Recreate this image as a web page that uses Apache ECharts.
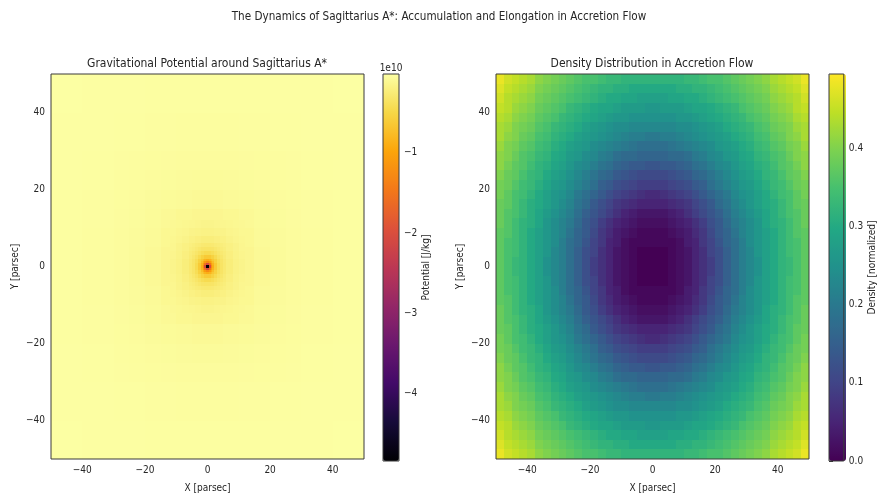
<!DOCTYPE html>
<html><head><meta charset="utf-8">
<script src="https://cdn.jsdelivr.net/npm/echarts@6/dist/echarts.min.js"></script>
<style>html,body{margin:0;padding:0;background:#fff}#c{width:878px;height:498px}</style>
</head><body><div id="c"></div><script>
const FONT = "'DejaVu Sans Condensed','DejaVu Sans',sans-serif";

const suptitle = 'The Dynamics of Sagittarius A*: Accumulation and Elongation in Accretion Flow';
const leftTitle = 'Gravitational Potential around Sagittarius A*';
const rightTitle = 'Density Distribution in Accretion Flow';
const xName = 'X [parsec]';
const yName = 'Y [parsec]';
const potentialName = 'Potential [J/kg]';
const densityName = 'Density [normalized]';
const potentialExponent = '1e10';

const axisTicks = [-40, -20, 0, 20, 40];
const potentialTicks = [-4, -3, -2, -1];
const densityTicks = [0, 0.1, 0.2, 0.3, 0.4];
const potentialRange = [-4.84, -0.02];   // units of 1e10 J/kg
const densityRange = [0, 0.495];

// Potential (1e10 J/kg), 10 pc cells, rows from y=-50 upward
const potCoarseEdges = [-50, -40, -30, -20, -10, 0, 10, 20, 30, 40, 50];
const potCoarseValues = [
  [-0.025,-0.028,-0.031,-0.034,-0.035,-0.035,-0.034,-0.031,-0.028,-0.025],
  [-0.028,-0.032,-0.037,-0.042,-0.045,-0.045,-0.042,-0.037,-0.032,-0.028],
  [-0.031,-0.037,-0.045,-0.055,-0.063,-0.063,-0.055,-0.045,-0.037,-0.031],
  [-0.034,-0.042,-0.055,-0.075,-0.10,-0.10,-0.075,-0.055,-0.042,-0.034],
  [-0.035,-0.045,-0.063,-0.10,-0.23,-0.23,-0.10,-0.063,-0.045,-0.035],
  [-0.035,-0.045,-0.063,-0.10,-0.23,-0.23,-0.10,-0.063,-0.045,-0.035],
  [-0.034,-0.042,-0.055,-0.075,-0.10,-0.10,-0.075,-0.055,-0.042,-0.034],
  [-0.031,-0.037,-0.045,-0.055,-0.063,-0.063,-0.055,-0.045,-0.037,-0.031],
  [-0.028,-0.032,-0.037,-0.042,-0.045,-0.045,-0.042,-0.037,-0.032,-0.028],
  [-0.025,-0.028,-0.031,-0.034,-0.035,-0.035,-0.034,-0.031,-0.028,-0.025]
];
// Potential, 5 pc cells
const potHaloEdges = [-30, -25, -20, -15, -10, -5, 0, 5, 10, 15, 20, 25, 30];
const potHaloValues = [
  [-0.041,-0.045,-0.049,-0.053,-0.056,-0.058,-0.058,-0.056,-0.053,-0.049,-0.045,-0.041],
  [-0.045,-0.050,-0.056,-0.062,-0.067,-0.071,-0.071,-0.067,-0.062,-0.056,-0.050,-0.045],
  [-0.049,-0.056,-0.065,-0.074,-0.084,-0.090,-0.090,-0.084,-0.074,-0.065,-0.056,-0.049],
  [-0.053,-0.062,-0.074,-0.090,-0.110,-0.125,-0.125,-0.110,-0.090,-0.074,-0.062,-0.053],
  [-0.056,-0.067,-0.084,-0.110,-0.15,-0.20,-0.20,-0.15,-0.110,-0.084,-0.067,-0.056],
  [-0.058,-0.071,-0.090,-0.125,-0.20,-0.45,-0.45,-0.20,-0.125,-0.090,-0.071,-0.058],
  [-0.058,-0.071,-0.090,-0.125,-0.20,-0.45,-0.45,-0.20,-0.125,-0.090,-0.071,-0.058],
  [-0.056,-0.067,-0.084,-0.110,-0.15,-0.20,-0.20,-0.15,-0.110,-0.084,-0.067,-0.056],
  [-0.053,-0.062,-0.074,-0.090,-0.110,-0.125,-0.125,-0.110,-0.090,-0.074,-0.062,-0.053],
  [-0.049,-0.056,-0.065,-0.074,-0.084,-0.090,-0.090,-0.084,-0.074,-0.065,-0.056,-0.049],
  [-0.045,-0.050,-0.056,-0.062,-0.067,-0.071,-0.071,-0.067,-0.062,-0.056,-0.050,-0.045],
  [-0.041,-0.045,-0.049,-0.053,-0.056,-0.058,-0.058,-0.056,-0.053,-0.049,-0.045,-0.041]
];
// Potential, 2 pc cells
const potMidEdges = [-12, -10, -8, -6, -4, -2, 0, 2, 4, 6, 8, 10, 12];
const potMidValues = [
  [-0.10,-0.11,-0.12,-0.13,-0.14,-0.15,-0.15,-0.14,-0.13,-0.12,-0.11,-0.10],
  [-0.11,-0.13,-0.14,-0.16,-0.17,-0.18,-0.18,-0.17,-0.16,-0.14,-0.13,-0.11],
  [-0.12,-0.14,-0.16,-0.19,-0.21,-0.23,-0.23,-0.21,-0.19,-0.16,-0.14,-0.12],
  [-0.13,-0.16,-0.19,-0.23,-0.27,-0.31,-0.31,-0.27,-0.23,-0.19,-0.16,-0.13],
  [-0.14,-0.17,-0.21,-0.27,-0.38,-0.51,-0.51,-0.38,-0.27,-0.21,-0.17,-0.14],
  [-0.15,-0.18,-0.23,-0.31,-0.51,-1.13,-1.13,-0.51,-0.31,-0.23,-0.18,-0.15],
  [-0.15,-0.18,-0.23,-0.31,-0.51,-1.13,-1.13,-0.51,-0.31,-0.23,-0.18,-0.15],
  [-0.14,-0.17,-0.21,-0.27,-0.38,-0.51,-0.51,-0.38,-0.27,-0.21,-0.17,-0.14],
  [-0.13,-0.16,-0.19,-0.23,-0.27,-0.31,-0.31,-0.27,-0.23,-0.19,-0.16,-0.13],
  [-0.12,-0.14,-0.16,-0.19,-0.21,-0.23,-0.23,-0.21,-0.19,-0.16,-0.14,-0.12],
  [-0.11,-0.13,-0.14,-0.16,-0.17,-0.18,-0.18,-0.17,-0.16,-0.14,-0.13,-0.11],
  [-0.10,-0.11,-0.12,-0.13,-0.14,-0.15,-0.15,-0.14,-0.13,-0.12,-0.11,-0.10]
];
// Potential, 1 pc cells
const potInnerEdges = [-6, -5, -4, -3, -2, -1, 0, 1, 2, 3, 4, 5, 6];
const potInnerValues = [
  [-0.21,-0.23,-0.25,-0.26,-0.28,-0.29,-0.29,-0.28,-0.26,-0.25,-0.23,-0.21],
  [-0.23,-0.25,-0.28,-0.31,-0.34,-0.35,-0.35,-0.34,-0.31,-0.28,-0.25,-0.23],
  [-0.25,-0.28,-0.32,-0.37,-0.42,-0.45,-0.45,-0.42,-0.37,-0.32,-0.28,-0.25],
  [-0.26,-0.31,-0.37,-0.45,-0.55,-0.63,-0.63,-0.55,-0.45,-0.37,-0.31,-0.26],
  [-0.28,-0.34,-0.42,-0.55,-0.75,-1.01,-1.01,-0.75,-0.55,-0.42,-0.34,-0.28],
  [-0.29,-0.35,-0.45,-0.63,-1.01,-2.26,-2.26,-1.01,-0.63,-0.45,-0.35,-0.29],
  [-0.29,-0.35,-0.45,-0.63,-1.01,-2.26,-2.26,-1.01,-0.63,-0.45,-0.35,-0.29],
  [-0.28,-0.34,-0.42,-0.55,-0.75,-1.01,-1.01,-0.75,-0.55,-0.42,-0.34,-0.28],
  [-0.26,-0.31,-0.37,-0.45,-0.55,-0.63,-0.63,-0.55,-0.45,-0.37,-0.31,-0.26],
  [-0.25,-0.28,-0.32,-0.37,-0.42,-0.45,-0.45,-0.42,-0.37,-0.32,-0.28,-0.25],
  [-0.23,-0.25,-0.28,-0.31,-0.34,-0.35,-0.35,-0.34,-0.31,-0.28,-0.25,-0.23],
  [-0.21,-0.23,-0.25,-0.26,-0.28,-0.29,-0.29,-0.28,-0.26,-0.25,-0.23,-0.21]
];
// Potential, 0.5 pc cells at the core
const potCoreEdges = [-2, -1.5, -1, -0.5, 0, 0.5, 1, 1.5, 2];
const potCoreValues = [
  [-0.65,-0.74,-0.84,-0.90,-0.90,-0.84,-0.74,-0.65],
  [-0.74,-0.90,-1.10,-1.26,-1.26,-1.10,-0.90,-0.74],
  [-0.84,-1.10,-1.51,-2.02,-2.02,-1.51,-1.10,-0.84],
  [-0.90,-1.26,-2.02,-4.84,-4.84,-2.02,-1.26,-0.90],
  [-0.90,-1.26,-2.02,-4.84,-4.84,-2.02,-1.26,-0.90],
  [-0.84,-1.10,-1.51,-2.02,-2.02,-1.51,-1.10,-0.84],
  [-0.74,-0.90,-1.10,-1.26,-1.26,-1.10,-0.90,-0.74],
  [-0.65,-0.74,-0.84,-0.90,-0.90,-0.84,-0.74,-0.65]
];

// Density (normalized), 2.5 pc cells, rows from y=-50 upward
const densityEdges = [-50,-47.5,-45,-42.5,-40,-37.5,-35,-32.5,-30,-27.5,-25,-22.5,-20,-17.5,-15,-12.5,-10,-7.5,-5,-2.5,0,2.5,5,7.5,10,12.5,15,17.5,20,22.5,25,27.5,30,32.5,35,37.5,40,42.5,45,47.5,50];
const densityValues = [
  [.48,.46,.45,.44,.43,.41,.40,.39,.38,.37,.36,.35,.35,.34,.33,.33,.32,.32,.32,.32,.32,.32,.32,.32,.33,.33,.34,.35,.35,.36,.37,.38,.39,.40,.41,.43,.44,.45,.46,.48],
  [.47,.45,.44,.43,.42,.40,.39,.38,.37,.36,.35,.34,.33,.32,.32,.31,.31,.30,.30,.30,.30,.30,.30,.31,.31,.32,.32,.33,.34,.35,.36,.37,.38,.39,.40,.42,.43,.44,.45,.47],
  [.46,.44,.43,.42,.41,.39,.38,.37,.36,.35,.34,.33,.32,.31,.30,.30,.29,.29,.28,.28,.28,.28,.29,.29,.30,.30,.31,.32,.33,.34,.35,.36,.37,.38,.39,.41,.42,.43,.44,.46],
  [.45,.44,.42,.41,.40,.38,.37,.36,.35,.33,.32,.31,.30,.29,.29,.28,.27,.27,.27,.26,.26,.27,.27,.27,.28,.29,.29,.30,.31,.32,.33,.35,.36,.37,.38,.40,.41,.42,.44,.45],
  [.44,.43,.41,.40,.39,.37,.36,.35,.33,.32,.31,.30,.29,.28,.27,.26,.26,.25,.25,.25,.25,.25,.25,.26,.26,.27,.28,.29,.30,.31,.32,.33,.35,.36,.37,.39,.40,.41,.43,.44],
  [.43,.42,.40,.39,.38,.36,.35,.33,.32,.31,.30,.28,.27,.26,.25,.24,.24,.23,.23,.23,.23,.23,.23,.24,.24,.25,.26,.27,.28,.30,.31,.32,.33,.35,.36,.38,.39,.40,.42,.43],
  [.43,.41,.40,.38,.37,.35,.34,.32,.31,.30,.28,.27,.26,.25,.24,.23,.22,.21,.21,.20,.20,.21,.21,.22,.23,.24,.25,.26,.27,.28,.30,.31,.32,.34,.35,.37,.38,.40,.41,.43],
  [.42,.40,.39,.37,.36,.34,.33,.31,.30,.28,.27,.26,.24,.23,.22,.21,.20,.19,.18,.18,.18,.18,.19,.20,.21,.22,.23,.24,.26,.27,.28,.30,.31,.33,.34,.36,.37,.39,.40,.42],
  [.41,.40,.38,.36,.35,.33,.32,.30,.29,.27,.26,.24,.23,.21,.20,.18,.17,.17,.16,.16,.16,.16,.17,.17,.18,.20,.21,.23,.24,.26,.27,.29,.30,.32,.33,.35,.36,.38,.40,.41],
  [.41,.39,.37,.36,.34,.32,.31,.29,.28,.26,.24,.23,.21,.19,.18,.16,.15,.14,.14,.13,.13,.14,.14,.15,.16,.18,.19,.21,.23,.24,.26,.28,.29,.31,.32,.34,.36,.37,.39,.41],
  [.40,.38,.37,.35,.33,.32,.30,.28,.27,.25,.23,.21,.19,.17,.16,.14,.13,.12,.11,.11,.11,.11,.12,.13,.14,.16,.17,.19,.21,.23,.25,.27,.28,.30,.32,.33,.35,.37,.38,.40],
  [.39,.38,.36,.34,.33,.31,.29,.27,.26,.24,.22,.20,.18,.15,.14,.12,.11,.10,.09,.09,.09,.09,.10,.11,.12,.14,.15,.18,.20,.22,.24,.26,.27,.29,.31,.33,.34,.36,.38,.39],
  [.39,.37,.35,.34,.32,.30,.28,.26,.25,.23,.20,.18,.16,.14,.12,.10,.09,.08,.07,.06,.06,.07,.08,.09,.10,.12,.14,.16,.18,.20,.23,.25,.26,.28,.30,.32,.34,.35,.37,.39],
  [.38,.37,.35,.33,.31,.30,.28,.26,.24,.22,.19,.17,.14,.12,.10,.08,.07,.06,.05,.05,.05,.05,.06,.07,.08,.10,.12,.14,.17,.19,.22,.24,.26,.28,.30,.31,.33,.35,.37,.38],
  [.38,.36,.35,.33,.31,.29,.27,.25,.23,.21,.18,.15,.13,.11,.09,.07,.05,.04,.03,.03,.03,.03,.04,.05,.07,.09,.11,.13,.15,.18,.21,.23,.25,.27,.29,.31,.33,.35,.36,.38],
  [.38,.36,.34,.32,.31,.29,.26,.24,.22,.20,.17,.14,.12,.09,.07,.05,.04,.03,.02,.02,.02,.02,.03,.04,.05,.07,.09,.12,.14,.17,.20,.22,.24,.26,.29,.31,.32,.34,.36,.38],
  [.37,.36,.34,.32,.30,.28,.26,.24,.22,.19,.16,.14,.11,.08,.06,.04,.03,.02,.01,.01,.01,.01,.02,.03,.04,.06,.08,.11,.14,.16,.19,.22,.24,.26,.28,.30,.32,.34,.36,.37],
  [.37,.35,.34,.32,.30,.28,.26,.24,.21,.18,.16,.13,.10,.08,.05,.04,.02,.01,.01,.01,.01,.01,.01,.02,.04,.05,.08,.10,.13,.16,.18,.21,.24,.26,.28,.30,.32,.34,.35,.37],
  [.37,.35,.34,.32,.30,.28,.26,.23,.21,.18,.15,.12,.10,.07,.05,.03,.02,.01,0,0,0,0,.01,.02,.03,.05,.07,.10,.12,.15,.18,.21,.23,.26,.28,.30,.32,.34,.35,.37],
  [.37,.35,.33,.32,.30,.28,.25,.23,.21,.18,.15,.12,.09,.07,.05,.03,.02,.01,0,0,0,0,.01,.02,.03,.05,.07,.09,.12,.15,.18,.21,.23,.25,.28,.30,.32,.33,.35,.37],
  [.37,.35,.33,.32,.30,.28,.25,.23,.21,.18,.15,.12,.09,.07,.05,.03,.02,.01,0,0,0,0,.01,.02,.03,.05,.07,.09,.12,.15,.18,.21,.23,.25,.28,.30,.32,.33,.35,.37],
  [.37,.35,.34,.32,.30,.28,.26,.23,.21,.18,.15,.12,.10,.07,.05,.03,.02,.01,0,0,0,0,.01,.02,.03,.05,.07,.10,.12,.15,.18,.21,.23,.26,.28,.30,.32,.34,.35,.37],
  [.37,.35,.34,.32,.30,.28,.26,.24,.21,.18,.16,.13,.10,.08,.05,.04,.02,.01,.01,.01,.01,.01,.01,.02,.04,.05,.08,.10,.13,.16,.18,.21,.24,.26,.28,.30,.32,.34,.35,.37],
  [.37,.36,.34,.32,.30,.28,.26,.24,.22,.19,.16,.14,.11,.08,.06,.04,.03,.02,.01,.01,.01,.01,.02,.03,.04,.06,.08,.11,.14,.16,.19,.22,.24,.26,.28,.30,.32,.34,.36,.37],
  [.38,.36,.34,.32,.31,.29,.26,.24,.22,.20,.17,.14,.12,.09,.07,.05,.04,.03,.02,.02,.02,.02,.03,.04,.05,.07,.09,.12,.14,.17,.20,.22,.24,.26,.29,.31,.32,.34,.36,.38],
  [.38,.36,.35,.33,.31,.29,.27,.25,.23,.21,.18,.15,.13,.11,.09,.07,.05,.04,.03,.03,.03,.03,.04,.05,.07,.09,.11,.13,.15,.18,.21,.23,.25,.27,.29,.31,.33,.35,.36,.38],
  [.38,.37,.35,.33,.31,.30,.28,.26,.24,.22,.19,.17,.14,.12,.10,.08,.07,.06,.05,.05,.05,.05,.06,.07,.08,.10,.12,.14,.17,.19,.22,.24,.26,.28,.30,.31,.33,.35,.37,.38],
  [.39,.37,.35,.34,.32,.30,.28,.26,.25,.23,.20,.18,.16,.14,.12,.10,.09,.08,.07,.06,.06,.07,.08,.09,.10,.12,.14,.16,.18,.20,.23,.25,.26,.28,.30,.32,.34,.35,.37,.39],
  [.39,.38,.36,.34,.33,.31,.29,.27,.26,.24,.22,.20,.18,.15,.14,.12,.11,.10,.09,.09,.09,.09,.10,.11,.12,.14,.15,.18,.20,.22,.24,.26,.27,.29,.31,.33,.34,.36,.38,.39],
  [.40,.38,.37,.35,.33,.32,.30,.28,.27,.25,.23,.21,.19,.17,.16,.14,.13,.12,.11,.11,.11,.11,.12,.13,.14,.16,.17,.19,.21,.23,.25,.27,.28,.30,.32,.33,.35,.37,.38,.40],
  [.41,.39,.37,.36,.34,.32,.31,.29,.28,.26,.24,.23,.21,.19,.18,.16,.15,.14,.14,.13,.13,.14,.14,.15,.16,.18,.19,.21,.23,.24,.26,.28,.29,.31,.32,.34,.36,.37,.39,.41],
  [.41,.40,.38,.36,.35,.33,.32,.30,.29,.27,.26,.24,.23,.21,.20,.18,.17,.17,.16,.16,.16,.16,.17,.17,.18,.20,.21,.23,.24,.26,.27,.29,.30,.32,.33,.35,.36,.38,.40,.41],
  [.42,.40,.39,.37,.36,.34,.33,.31,.30,.28,.27,.26,.24,.23,.22,.21,.20,.19,.18,.18,.18,.18,.19,.20,.21,.22,.23,.24,.26,.27,.28,.30,.31,.33,.34,.36,.37,.39,.40,.42],
  [.43,.41,.40,.38,.37,.35,.34,.32,.31,.30,.28,.27,.26,.25,.24,.23,.22,.21,.21,.20,.20,.21,.21,.22,.23,.24,.25,.26,.27,.28,.30,.31,.32,.34,.35,.37,.38,.40,.41,.43],
  [.43,.42,.40,.39,.38,.36,.35,.33,.32,.31,.30,.28,.27,.26,.25,.24,.24,.23,.23,.23,.23,.23,.23,.24,.24,.25,.26,.27,.28,.30,.31,.32,.33,.35,.36,.38,.39,.40,.42,.43],
  [.44,.43,.41,.40,.39,.37,.36,.35,.33,.32,.31,.30,.29,.28,.27,.26,.26,.25,.25,.25,.25,.25,.25,.26,.26,.27,.28,.29,.30,.31,.32,.33,.35,.36,.37,.39,.40,.41,.43,.44],
  [.45,.44,.42,.41,.40,.38,.37,.36,.35,.33,.32,.31,.30,.29,.29,.28,.27,.27,.27,.26,.26,.27,.27,.27,.28,.29,.29,.30,.31,.32,.33,.35,.36,.37,.38,.40,.41,.42,.44,.45],
  [.46,.44,.43,.42,.41,.39,.38,.37,.36,.35,.34,.33,.32,.31,.30,.30,.29,.29,.28,.28,.28,.28,.29,.29,.30,.30,.31,.32,.33,.34,.35,.36,.37,.38,.39,.41,.42,.43,.44,.46],
  [.47,.45,.44,.43,.42,.40,.39,.38,.37,.36,.35,.34,.33,.32,.32,.31,.31,.30,.30,.30,.30,.30,.30,.31,.31,.32,.32,.33,.34,.35,.36,.37,.38,.39,.40,.42,.43,.44,.45,.47],
  [.48,.46,.45,.44,.43,.41,.40,.39,.38,.37,.36,.35,.35,.34,.33,.33,.32,.32,.32,.32,.32,.32,.32,.32,.33,.33,.34,.35,.35,.36,.37,.38,.39,.40,.41,.43,.44,.45,.46,.48]
];

const inferno = ['#000004','#160b39','#420a68','#6a176e','#932667','#bc3754','#dd513a','#f37819','#fca50a','#f6d746','#fcffa4'];
const viridis = ['#440154','#482475','#414487','#355f8d','#2a788e','#21918c','#22a884','#44bf70','#7ad151','#bddf26','#fde725'];

function cells(xEdges, yEdges, values) {
  const out = [];
  for (let j = 0; j < values.length; j++)
    for (let i = 0; i < values[j].length; i++)
      out.push([xEdges[i], xEdges[i + 1], yEdges[j], yEdges[j + 1], values[j][i]]);
  return out;
}
function renderCell(params, api) {
  const a = api.coord([api.value(0), api.value(3)]);
  const b = api.coord([api.value(1), api.value(2)]);
  const x0 = Math.round(a[0]), y0 = Math.round(a[1]);
  const x1 = Math.round(b[0]), y1 = Math.round(b[1]);
  return { type: 'rect', shape: { x: x0, y: y0, width: x1 - x0, height: y1 - y0 },
           style: { fill: api.visual('color') } };
}
function cellSeries(idx, data, z) {
  return { type: 'custom', xAxisIndex: idx, yAxisIndex: idx, data: data, renderItem: renderCell,
           encode: { x: [0, 1], y: [2, 3] }, z: z, silent: true, animation: false, clip: true };
}
const minus = v => (v < 0 ? '\u2212' : '') + Math.abs(v);
const TXT = '#262626';
function mainX(idx) {
  return { gridIndex: idx, type: 'value', min: -50, max: 50,
    axisLine: { show: false }, splitLine: { show: false },
    axisTick: { inside: false, length: 4, customValues: axisTicks, lineStyle: { color: '#333' } },
    axisLabel: { customValues: axisTicks, formatter: minus, margin: 6, fontFamily: FONT, fontSize: 10, color: TXT },
    name: xName, nameLocation: 'middle', nameGap: 24, nameTextStyle: { fontFamily: FONT, fontSize: 10, color: TXT } };
}
function mainY(idx, gap) {
  return { gridIndex: idx, type: 'value', min: -50, max: 50,
    axisLine: { show: false }, splitLine: { show: false },
    axisTick: { inside: false, length: 4, customValues: axisTicks, lineStyle: { color: '#333' } },
    axisLabel: { customValues: axisTicks, formatter: minus, margin: 6, fontFamily: FONT, fontSize: 10, color: TXT },
    name: yName, nameLocation: 'middle', nameGap: gap, nameRotate: 90, nameTextStyle: { fontFamily: FONT, fontSize: 10, color: TXT } };
}
function cbarY(idx, range, ticks, fmt, name, gap) {
  return { gridIndex: idx, type: 'value', position: 'right', min: range[0], max: range[1],
    axisLine: { show: false }, splitLine: { show: false },
    axisTick: { inside: false, length: 4, customValues: ticks, lineStyle: { color: '#333' } },
    axisLabel: { customValues: ticks, formatter: fmt, margin: 5, fontFamily: FONT, fontSize: 10, color: TXT },
    name: name, nameLocation: 'middle', nameGap: gap, nameRotate: 90, nameTextStyle: { fontFamily: FONT, fontSize: 10, color: TXT } };
}
const gridStyle = { show: true, borderColor: '#3a3a3a', borderWidth: 1, backgroundColor: 'transparent', z: 10 };

const chart = echarts.init(document.getElementById('c'), null, { renderer: 'canvas' });
chart.setOption({
  animation: false,
  backgroundColor: '#ffffff',
  grid: [
    Object.assign({ left: 51, top: 74, width: 313, height: 387 }, gridStyle),
    Object.assign({ left: 496, top: 74, width: 313, height: 387 }, gridStyle),
    Object.assign({ left: 383, top: 74, width: 16, height: 387 }, gridStyle),
    Object.assign({ left: 829, top: 74, width: 17, height: 387 }, gridStyle)
  ],
  xAxis: [mainX(0), mainX(1),
    { gridIndex: 2, type: 'value', min: 0, max: 1, show: false },
    { gridIndex: 3, type: 'value', min: 0, max: 1, show: false }],
  yAxis: [mainY(0, 31), mainY(1, 31),
    cbarY(2, potentialRange, potentialTicks, minus, potentialName, 22),
    cbarY(3, densityRange, densityTicks, v => v.toFixed(1), densityName, 22)],
  visualMap: [
    { type: 'continuous', seriesIndex: [0, 1, 2, 3, 4], dimension: 4, min: potentialRange[0], max: potentialRange[1],
      inRange: { color: inferno }, left: 383, top: 74, itemWidth: 16, itemHeight: 387, padding: 0,
      calculable: false, hoverLink: false, text: null, orient: 'vertical' },
    { type: 'continuous', seriesIndex: [5], dimension: 4, min: densityRange[0], max: densityRange[1],
      inRange: { color: viridis }, left: 829, top: 74, itemWidth: 17, itemHeight: 387, padding: 0,
      calculable: false, hoverLink: false, text: null, orient: 'vertical' }
  ],
  series: [
    cellSeries(0, cells(potCoarseEdges, potCoarseEdges, potCoarseValues), 2),
    cellSeries(0, cells(potHaloEdges, potHaloEdges, potHaloValues), 3),
    cellSeries(0, cells(potMidEdges, potMidEdges, potMidValues), 4),
    cellSeries(0, cells(potInnerEdges, potInnerEdges, potInnerValues), 5),
    cellSeries(0, cells(potCoreEdges, potCoreEdges, potCoreValues), 6),
    cellSeries(1, cells(densityEdges, densityEdges, densityValues), 2)
  ],
  graphic: [
    { type: 'text', x: 439, y: 17, style: { text: suptitle, font: '11.6px ' + FONT, fill: TXT, align: 'center', verticalAlign: 'middle' } },
    { type: 'text', x: 207, y: 64, style: { text: leftTitle, font: '12px ' + FONT, fill: TXT, align: 'center', verticalAlign: 'middle' } },
    { type: 'text', x: 652, y: 64, style: { text: rightTitle, font: '12px ' + FONT, fill: TXT, align: 'center', verticalAlign: 'middle' } },
    { type: 'text', x: 391, y: 68, style: { text: potentialExponent, font: '10px ' + FONT, fill: TXT, align: 'center', verticalAlign: 'middle' } }
  ]
});
</script></body></html>
